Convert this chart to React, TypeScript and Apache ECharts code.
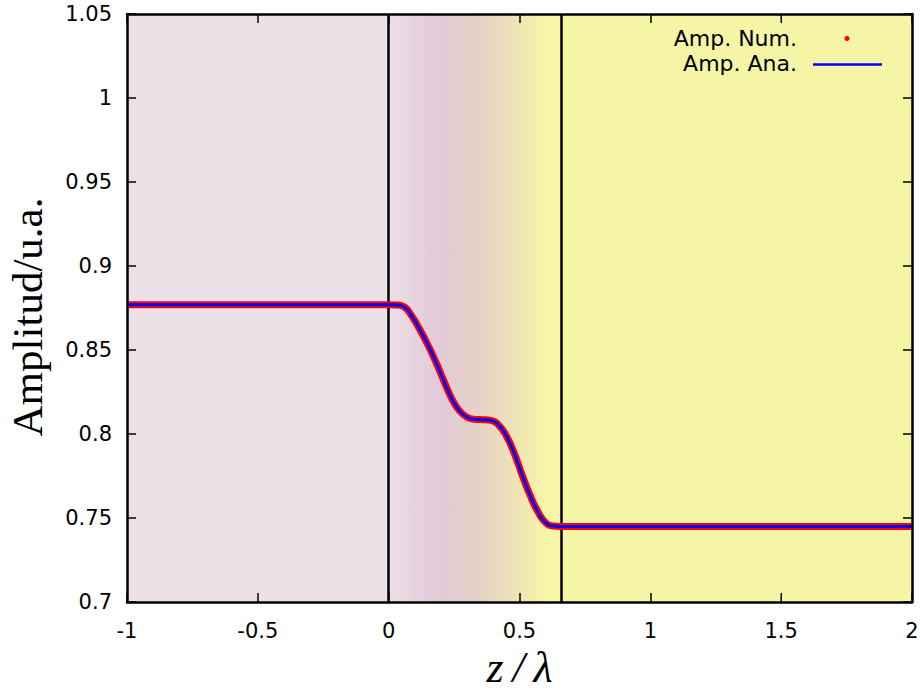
import React, { useEffect, useRef } from "react";
import * as echarts from "echarts";

const zValues = [-1, 0, 0.03, 0.06, 0.09, 0.12, 0.15, 0.18, 0.21, 0.24, 0.27, 0.3, 0.33, 0.36, 0.39, 0.42, 0.45, 0.48, 0.51, 0.54, 0.57, 0.6, 0.63, 0.655, 2];
const ampValues = [0.877, 0.877, 0.8768, 0.8756, 0.8698, 0.8619, 0.853, 0.843, 0.832, 0.8214, 0.8139, 0.81, 0.8087, 0.8085, 0.8081, 0.8054, 0.7988, 0.7885, 0.7756, 0.7637, 0.7538, 0.7472, 0.7452, 0.745, 0.745];
const boundaries = [0, 0.655];
const xTicks = [-1, -0.5, 0, 0.5, 1, 1.5, 2];
const yTicks = [0.7, 0.75, 0.8, 0.85, 0.9, 0.95, 1, 1.05];
const legendLabels = ["Amp. Num.", "Amp. Ana."];

export default function App() {
  const ref = useRef<HTMLDivElement>(null);
  useEffect(() => {
    if (!ref.current) return;
    const chart = echarts.init(ref.current, null, { renderer: "svg" });
    const data = zValues.map((z, i) => [z, ampValues[i]]);
    const xMin = xTicks[0];
    const xMax = xTicks[xTicks.length - 1];
    const yMin = yTicks[0];
    const yMax = yTicks[yTicks.length - 1];
    const mkAxis = (extra: any) => ({
      z: 50,
      zlevel: 1,
      type: "value",
      axisLine: { show: true, onZero: false, lineStyle: { color: "#000", width: 2.5 } },
      axisTick: { show: false },
      minorTick: { show: false },
      splitLine: { show: false },
      ...extra,
    });
    const tickFont = { color: "#000", fontFamily: "DejaVu Sans", fontSize: 21 };
    const baseMarkLine = boundaries.map((b) => ({ xAxis: b }));
    const buildOption = (tickLines: any[]) => ({
      animation: false,
      grid: { left: 127, right: 8, top: 14, bottom: 94, containLabel: false, outerBoundsMode: "none" },
      xAxis: [
        mkAxis({
          min: xMin,
          max: xMax,
          interval: 0.5,
          position: "bottom",
          axisLabel: { ...tickFont, margin: 18 },
          name: "z\u2009/\u2009λ",
          nameLocation: "middle",
          nameGap: 38,
          nameTextStyle: { color: "#000", fontFamily: "Liberation Serif", fontStyle: "italic", fontSize: 44 },
        }),
        mkAxis({ min: xMin, max: xMax, interval: 0.5, position: "top", axisLabel: { show: false } }),
      ],
      yAxis: [
        mkAxis({
          min: yMin,
          max: yMax,
          interval: 0.05,
          position: "left",
          axisLabel: { ...tickFont, margin: 15 },
          name: "Amplitud/u.a.",
          nameLocation: "middle",
          nameGap: 78,
          nameRotate: 90,
          nameTextStyle: { color: "#000", fontFamily: "Liberation Serif", fontSize: 43, padding: [0, 18, 0, 0] },
        }),
        mkAxis({ min: yMin, max: yMax, interval: 0.05, position: "right", axisLabel: { show: false } }),
      ],
      series: [
        {
          type: "line",
          data: [],
          z: 0,
          markArea: {
            silent: true,
            z: 0,
            data: [
              [
                { xAxis: xMin, yAxis: yMin, itemStyle: { color: "#ede1e8" } },
                { xAxis: boundaries[0], yAxis: yMax },
              ],
              [
                {
                  xAxis: boundaries[0],
                  yAxis: yMin,
                  itemStyle: {
                    color: new echarts.graphic.LinearGradient(0, 0, 1, 0, [
                      { offset: 0, color: "#ecdee7" },
                      { offset: 0.3, color: "#e2c9d7" },
                      { offset: 0.55, color: "#e6d3c6" },
                      { offset: 0.75, color: "#efe4b5" },
                      { offset: 0.93, color: "#f8f6a8" },
                      { offset: 1, color: "#f8f7a7" },
                    ]),
                  },
                },
                { xAxis: boundaries[1], yAxis: yMax },
              ],
              [
                { xAxis: boundaries[1], yAxis: yMin, itemStyle: { color: "#f5f5a5" } },
                { xAxis: xMax, yAxis: yMax },
              ],
            ],
          },
          markLine: {
            silent: true,
            z: 1,
            symbol: "none",
            label: { show: false },
            lineStyle: { color: "#000", width: 2.5, type: "solid" },
            data: [...baseMarkLine, ...tickLines],
          },
        },
        {
          name: legendLabels[0],
          type: "line",
          data,
          z: 10,
          smooth: 0.5,
          showSymbol: false,
          lineStyle: { color: "#ff0000", width: 7 },
        },
        {
          name: legendLabels[1],
          type: "line",
          data,
          z: 11,
          smooth: 0.5,
          showSymbol: false,
          lineStyle: { color: "#0000ff", width: 3 },
        },
      ],
      graphic: [
        {
          type: "text",
          right: 920 - 797,
          top: 27,
          z: 60,
          style: { text: legendLabels[0], fill: "#000", font: "22px 'DejaVu Sans'", textAlign: "right" },
        },
        { type: "circle", shape: { cx: 847, cy: 38.5, r: 2.5 }, style: { fill: "#ff0000" }, z: 60 },
        {
          type: "text",
          right: 920 - 797,
          top: 52,
          z: 60,
          style: { text: legendLabels[1], fill: "#000", font: "22px 'DejaVu Sans'", textAlign: "right" },
        },
        {
          type: "line",
          shape: { x1: 813, y1: 64.5, x2: 882, y2: 64.5 },
          style: { stroke: "#0000ff", lineWidth: 2.5 },
          z: 60,
        },
      ],
    });
    chart.setOption(buildOption([]));
    // tick length of 9px converted to data units through the axes' own scales
    const p0 = chart.convertToPixel({ gridIndex: 0 }, [xMin, yMin]) as any;
    const p1 = Array.isArray(p0) ? (chart.convertFromPixel({ gridIndex: 0 }, [p0[0] + 9, p0[1] - 9]) as any) : null;
    if (Array.isArray(p1) && isFinite(p1[0]) && isFinite(p1[1])) {
      const dx = p1[0] - xMin;
      const dy = p1[1] - yMin;
      // tiny skew so that the zone of each tick is not degenerate
      const ex = dx * 0.02;
      const ey = dy * 0.02;
      const tickStyle = { color: "#000", width: 1.5, type: "solid" };
      const tickLines: any[] = [];
      xTicks.forEach((x) => {
        const sx = x < xMax ? 1 : -1;
        tickLines.push([{ coord: [x, yMin], lineStyle: tickStyle }, { coord: [x + sx * ex, yMin + dy] }]);
        tickLines.push([{ coord: [x, yMax], lineStyle: tickStyle }, { coord: [x + sx * ex, yMax - dy] }]);
      });
      yTicks.forEach((y) => {
        const sy = y < yMax ? 1 : -1;
        tickLines.push([{ coord: [xMin, y], lineStyle: tickStyle }, { coord: [xMin + dx, y + sy * ey] }]);
        tickLines.push([{ coord: [xMax, y], lineStyle: tickStyle }, { coord: [xMax - dx, y + sy * ey] }]);
      });
      chart.setOption(buildOption(tickLines));
    }
    return () => chart.dispose();
  }, []);
  return <div ref={ref} style={{ width: 920, height: 696, position: "absolute", left: 0, top: 0 }} />;
}
